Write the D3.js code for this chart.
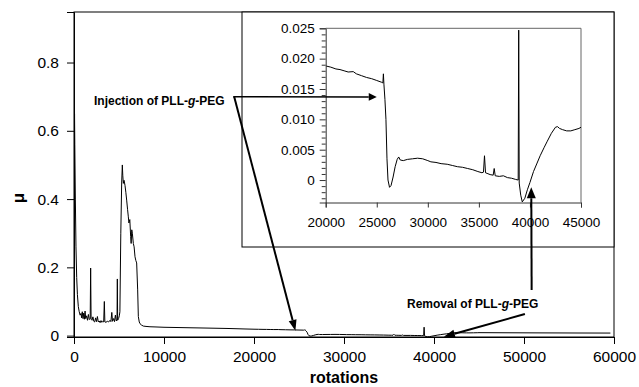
<!DOCTYPE html>
<html><head><meta charset="utf-8">
<script src="https://cdn.jsdelivr.net/npm/d3@7/dist/d3.min.js"></script>
<style>
html,body{margin:0;padding:0;background:#fff;}
svg{display:block;font-family:"Liberation Sans",Arial,sans-serif;}
</style></head><body>
<svg id="c" width="639" height="387"></svg>
<script>
// ---- data ----
const rotations = [0,15,30,45,60,90,150,220,300,380,480,580,680,780,850,920,1000,1080,1150,1230,1300,1400,1500,1600,1700,1800,1850,1900,2000,2100,2200,2300,2400,2500,2600,2700,2800,2900,3000,3100,3200,3300,3370,3430,3550,3700,3850,4000,4100,4200,4280,4400,4500,4600,4700,4780,4815,4850,4950,5035,5100,5200,5300,5370,5420,5480,5560,5667,5760,5852,5950,6037,6100,6200,6296,6350,6420,6481,6593,6680,6778,6870,6963,7074,7148,7250,7333,7500,7704,8000,8444,9000,10000,11000,12000,13000,14000,15000,16000,17000,18000,19000,20000,20500,21000,21400,21800,22200,22700,23000,23500,24000,24500,25000,25490,25600,25650,25700,25800,25900,26000,26100,26250,26400,26600,26800,27000,27150,27300,27600,28000,28500,29000,29500,30000,30300,30800,31300,31900,32400,32900,33400,33900,34400,34900,35300,35450,35550,35650,35800,36100,36400,36500,36600,37000,37400,37800,38200,38600,38850,38900,38950,39100,39250,39500,39750,40000,40350,40700,41000,41400,41700,42100,42500,42700,42900,43200,43600,44000,44400,44800,45000,46000,48000,50000,52000,54000,56000,58000,59600];
const mu = [0.755,0.66,0.72,0.58,0.65,0.56,0.40,0.26,0.17,0.12,0.085,0.07,0.06,0.065,0.052,0.07,0.05,0.066,0.048,0.072,0.05,0.058,0.045,0.062,0.047,0.05,0.198,0.048,0.045,0.055,0.042,0.04,0.052,0.041,0.056,0.04,0.043,0.038,0.044,0.039,0.042,0.04,0.1,0.04,0.039,0.042,0.04,0.045,0.041,0.068,0.042,0.05,0.041,0.06,0.043,0.048,0.166,0.045,0.05,0.058,0.07,0.3,0.45,0.5,0.47,0.446,0.455,0.44,0.42,0.397,0.37,0.348,0.33,0.34,0.29,0.27,0.31,0.3,0.27,0.26,0.231,0.22,0.213,0.134,0.056,0.04,0.035,0.031,0.028,0.027,0.026,0.0255,0.0245,0.024,0.0235,0.023,0.0225,0.022,0.0215,0.021,0.0203,0.0195,0.0188,0.0186,0.0183,0.0182,0.0180,0.0178,0.01786,0.0175,0.0172,0.0169,0.0167,0.0164,0.0161,0.0160,0.0175,0.0158,0.0133,0.0100,0.0035,0.0000,-0.0012,-0.0009,0.0005,0.0022,0.0034,0.0038,0.0033,0.0032,0.0034,0.0035,0.0036,0.0035,0.0032,0.0030,0.0029,0.0027,0.0026,0.0024,0.0022,0.0021,0.0019,0.0017,0.0014,0.0012,0.0013,0.0040,0.0012,0.0011,0.0009,0.0008,0.0019,0.0007,0.0006,0.0007,0.0004,0.0003,0.0001,0.0000,0.0247,-0.0005,-0.0025,-0.0036,-0.0030,-0.0016,-0.0004,0.0014,0.0028,0.0040,0.0054,0.0064,0.0077,0.0087,0.0088,0.0085,0.0083,0.0081,0.0081,0.0083,0.0085,0.0087,0.0086,0.0084,0.0082,0.0080,0.0079,0.0077,0.0076,0.0075];

const mainXTicks = [0,10000,20000,30000,40000,50000,60000];
const mainYTicks = [0,0.2,0.4,0.6,0.8];
const insetXTicks = [20000,25000,30000,35000,40000,45000];
const insetYTicks = [0,0.005,0.010,0.015,0.020,0.025];
const insetYMinor = [-0.003,-0.002,-0.001,0.001,0.002,0.003,0.004,0.006,0.007,0.008,0.009,0.011,0.012,0.013,0.014,0.016,0.017,0.018,0.019,0.021,0.022,0.023,0.024];

const xLabel = "rotations";
const yLabel = "μ";
const injLabel = ["Injection of PLL-","g","-PEG"];
const remLabel = ["Removal of PLL-","g","-PEG"];

const data = rotations.map((r,i)=>({x:r,y:mu[i]}));

// ---- layout ----
const svg = d3.select("#c");
const M = {l:74, r:614, t:12, b:337};
const x = d3.scaleLinear().domain([0,60000]).range([M.l,M.r]);
const y = d3.scaleLinear().domain([-0.004,0.948]).range([M.b,M.t]);

const FONT = '"Liberation Sans",Arial,sans-serif';

svg.append("clipPath").attr("id","mclip").append("rect")
  .attr("x",M.l).attr("y",M.t).attr("width",M.r-M.l).attr("height",M.b-M.t);

// main line
svg.append("path").datum(data)
  .attr("clip-path","url(#mclip)")
  .attr("fill","none").attr("stroke","#000").attr("stroke-width",1)
  .attr("d",d3.line().x(d=>x(d.x)).y(d=>y(d.y)));

// main frame
svg.append("rect").attr("x",M.l).attr("y",M.t).attr("width",M.r-M.l).attr("height",M.b-M.t)
  .attr("fill","none").attr("stroke","#000").attr("stroke-width",1);

// main axes
const gx = svg.append("g").attr("transform",`translate(0,${M.b})`)
  .call(d3.axisBottom(x).tickValues(mainXTicks).tickSize(7).tickPadding(7).tickFormat(d3.format("d")));
const gy = svg.append("g").attr("transform",`translate(${M.l},0)`)
  .call(d3.axisLeft(y).tickValues(mainYTicks).tickSize(7).tickPadding(8).tickFormat(d=>d===0?"0":d3.format(".1f")(d)));
[gx,gy].forEach(g=>{
  g.select(".domain").attr("stroke","#000");
  g.selectAll(".tick line").attr("stroke","#000");
  g.selectAll("text").attr("font-family",FONT).attr("font-size",15.5).attr("fill","#000");
});

svg.append("text").attr("x",(M.l+M.r)/2).attr("y",383).attr("text-anchor","middle")
  .attr("font-family",FONT).attr("font-weight","bold").attr("font-size",16).text(xLabel);
svg.append("text").attr("transform","translate(24,198) rotate(-90)").attr("text-anchor","middle")
  .attr("font-family",FONT).attr("font-weight","bold").attr("font-size",17).text(yLabel);

// ---- inset ----
const IB = {l:242, r:614, t:12, b:247};
svg.append("rect").attr("x",IB.l).attr("y",IB.t).attr("width",IB.r-IB.l).attr("height",IB.b-IB.t)
  .attr("fill","#fff").attr("stroke","#000").attr("stroke-width",1);

const I = {l:325.7, r:581, t:28.3, b:202.5};
const xi = d3.scaleLinear().domain([20000,45000]).range([I.l,I.r]);
const yi = d3.scaleLinear().domain([-0.0037,0.025]).range([I.b,I.t]);

svg.append("clipPath").attr("id","iclip").append("rect")
  .attr("x",I.l).attr("y",I.t).attr("width",I.r-I.l).attr("height",I.b-I.t);

// inset plot-area frame (top & right gray)
svg.append("path").attr("d",`M${I.l},${I.t}H${I.r}V${I.b}`)
  .attr("fill","none").attr("stroke","#666").attr("stroke-width",1);

svg.append("path").datum(data.filter(d=>d.x>=19500 && d.x<=45500))
  .attr("clip-path","url(#iclip)")
  .attr("fill","none").attr("stroke","#000").attr("stroke-width",1)
  .attr("d",d3.line().x(d=>xi(d.x)).y(d=>yi(d.y)));

const gxi = svg.append("g").attr("transform",`translate(0,${I.b})`)
  .call(d3.axisBottom(xi).tickValues(insetXTicks).tickSize(5).tickPadding(10).tickFormat(d3.format("d")));
const gyi = svg.append("g").attr("transform",`translate(${I.l},0)`)
  .call(d3.axisLeft(yi).tickValues(insetYTicks).tickSize(6).tickPadding(5).tickFormat(d=>d===0?"0":d3.format(".3f")(d)));
svg.append("g").attr("transform",`translate(${I.l},0)`)
  .call(d3.axisLeft(yi).tickValues(insetYMinor).tickSize(4).tickFormat(""))
  .call(g=>g.select(".domain").remove())
  .selectAll(".tick line").attr("stroke","#333");
[gxi,gyi].forEach(g=>{
  g.select(".domain").attr("stroke","#333");
  g.selectAll(".tick line").attr("stroke","#333");
  g.selectAll("text").attr("font-family",FONT).attr("font-size",13.5).attr("fill","#000");
});

// ---- annotations ----
function arrowHead(x1,y1,x2,y2,len,w){
  const a=Math.atan2(y2-y1,x2-x1);
  const bx=x2-len*Math.cos(a), by=y2-len*Math.sin(a);
  const px=-Math.sin(a)*w/2, py=Math.cos(a)*w/2;
  svg.append("path").attr("d",`M${x2},${y2}L${bx+px},${by+py}L${bx-px},${by-py}Z`).attr("fill","#000");
  return [bx,by];
}
function arrow(x1,y1,x2,y2,sw,len,w){
  const [bx,by]=arrowHead(x1,y1,x2,y2,len,w);
  svg.append("line").attr("x1",x1).attr("y1",y1).attr("x2",bx).attr("y2",by)
    .attr("stroke","#000").attr("stroke-width",sw);
}
function label(tx,ty,parts){
  const t=svg.append("text").attr("x",tx).attr("y",ty).attr("font-family",FONT)
    .attr("font-weight","bold").attr("font-size",12);
  parts.forEach((p,i)=>t.append("tspan").attr("font-style",i===1?"italic":"normal").text(p));
}

// injection
label(94,105,injLabel);
const injSx = x(17800), injSy = y(0.700);
arrow(injSx-1, injSy, xi(25000), yi(0.0137), 1.5, 8, 8);
arrow(injSx, injSy, x(24600), y(0.014), 2, 11, 8);

// removal
label(407,308,remLabel);
arrow(x(50850), 290, xi(40130), yi(-0.0012), 2, 11, 9);
arrow(x(50100), 314, x(41100), y(-0.003), 2, 11, 8);
</script></body></html>
